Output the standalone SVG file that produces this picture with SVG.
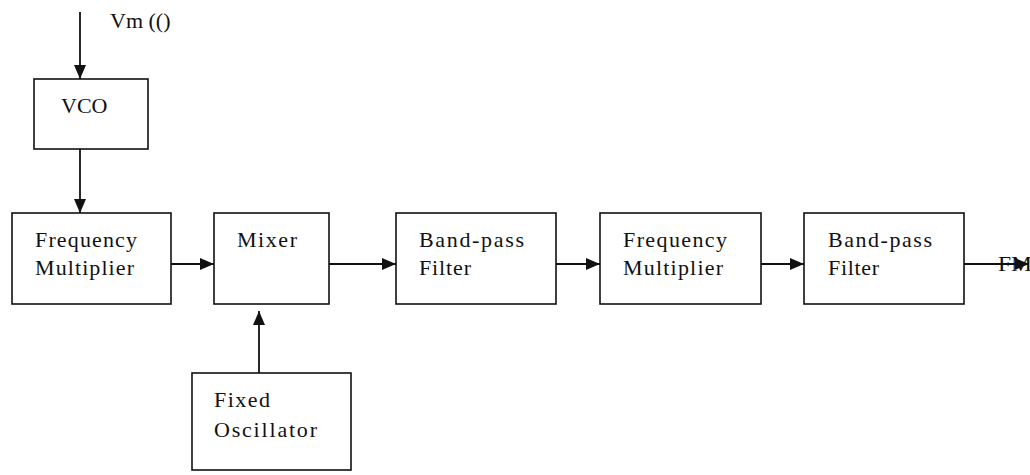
<svg xmlns="http://www.w3.org/2000/svg" width="1030" height="475" viewBox="0 0 1030 475">
<style>
.box{fill:#fff;stroke:#111;stroke-width:1.6}
.lbl{font-family:"Liberation Serif","Times New Roman",serif;font-size:22px;fill:#111}
.wire{stroke:#111;stroke-width:1.8;fill:none}
</style>
<defs>
<marker id="ah" viewBox="0 0 14 12" refX="14" refY="6" markerWidth="14" markerHeight="12" markerUnits="userSpaceOnUse" orient="auto">
<path d="M0,0 L14,6 L0,12 Z" fill="#111"/>
</marker>
</defs>
<rect width="1030" height="475" fill="#fff"/>
<g id="connectors">
<line class="wire" x1="80" y1="12" x2="80" y2="79" marker-end="url(#ah)"/>
<line class="wire" x1="80" y1="149" x2="80" y2="213" marker-end="url(#ah)"/>
<line class="wire" x1="171" y1="264" x2="214" y2="264" marker-end="url(#ah)"/>
<line class="wire" x1="329" y1="264" x2="396" y2="264" marker-end="url(#ah)"/>
<line class="wire" x1="556" y1="264" x2="600" y2="264" marker-end="url(#ah)"/>
<line class="wire" x1="761" y1="264" x2="804" y2="264" marker-end="url(#ah)"/>
<line class="wire" x1="964" y1="264" x2="1029" y2="264" marker-end="url(#ah)"/>
<line class="wire" x1="259" y1="373" x2="259" y2="311" marker-end="url(#ah)"/>
<text class="lbl" x="110" y="28">Vm (()</text>
<text class="lbl" x="998" y="271" textLength="34" lengthAdjust="spacingAndGlyphs">FM</text>
</g>
<g id="vco">
<rect class="box" x="34" y="79" width="114" height="70"/>
<text class="lbl" x="61" y="113">VCO</text>
</g>
<g id="freq-mult-1">
<rect class="box" x="12" y="213" width="159" height="91"/>
<text class="lbl" x="35" y="247" textLength="102" lengthAdjust="spacing">Frequency</text>
<text class="lbl" x="35" y="275" textLength="99" lengthAdjust="spacing">Multiplier</text>
</g>
<g id="mixer">
<rect class="box" x="214" y="213" width="115" height="91"/>
<text class="lbl" x="237" y="247" textLength="60" lengthAdjust="spacing">Mixer</text>
</g>
<g id="bpf-1">
<rect class="box" x="396" y="213" width="160" height="91"/>
<text class="lbl" x="419" y="247" textLength="105" lengthAdjust="spacing">Band-pass</text>
<text class="lbl" x="419" y="275" textLength="52" lengthAdjust="spacing">Filter</text>
</g>
<g id="freq-mult-2">
<rect class="box" x="600" y="213" width="161" height="91"/>
<text class="lbl" x="623" y="247" textLength="104" lengthAdjust="spacing">Frequency</text>
<text class="lbl" x="623" y="275" textLength="100" lengthAdjust="spacing">Multiplier</text>
</g>
<g id="bpf-2">
<rect class="box" x="804" y="213" width="160" height="91"/>
<text class="lbl" x="828" y="247" textLength="104" lengthAdjust="spacing">Band-pass</text>
<text class="lbl" x="828" y="275" textLength="51" lengthAdjust="spacing">Filter</text>
</g>
<g id="fixed-osc">
<rect class="box" x="192" y="373" width="159" height="97"/>
<text class="lbl" x="214" y="407" textLength="56" lengthAdjust="spacing">Fixed</text>
<text class="lbl" x="214" y="437" textLength="103" lengthAdjust="spacing">Oscillator</text>
</g>
</svg>
